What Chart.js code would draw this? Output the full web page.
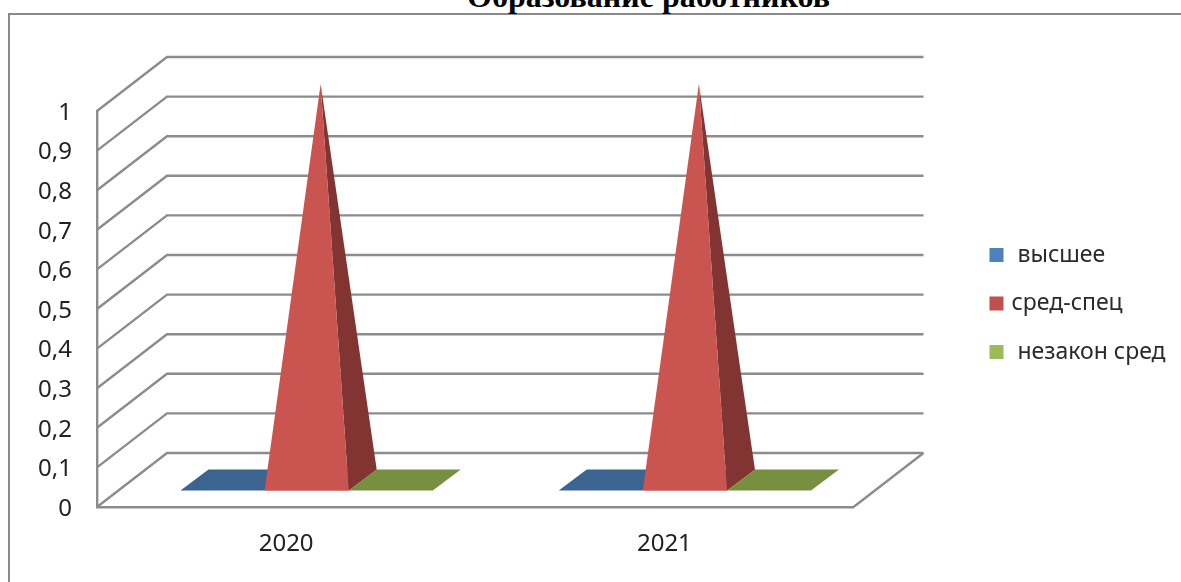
<!DOCTYPE html>
<html>
<head>
<meta charset="utf-8">
<style>
  html, body { margin: 0; padding: 0; background: #fff; overflow: hidden; }
  #wrap { position: relative; width: 1181px; height: 582px; overflow: hidden; }
  #frame { position: absolute; left: 8px; top: 13px; width: 1200px; height: 600px; border: 2px solid #8a8a8a; box-sizing: border-box; }
  #title { position: absolute; left: 467px; top: -22px; font: bold 32px "Liberation Serif"; color: #000; white-space: nowrap; }
  canvas { position: absolute; left: 0; top: 0; }
</style>
</head>
<body>
<div id="wrap">
  <div id="frame"></div>
  <div id="title">Образование работников</div>
  <canvas id="myChart" width="1181" height="582"></canvas>
</div>
<script src="https://cdn.jsdelivr.net/npm/chart.js@4/dist/chart.umd.min.js"></script>
<script>
'use strict';

const categories = ['2020', '2021'];
const vysshee = [0, 0];
const sredSpec = [1, 1];
const nezakonSred = [0, 0];
const yTickLabels = ['0', '0,1', '0,2', '0,3', '0,4', '0,5', '0,6', '0,7', '0,8', '0,9', '1'];

const gridColor = '#8c8c8c';
// wall depth of the fake 3d box, and where the bars stand inside it
const wallDx = 70, wallDy = 54;
const barShiftX = 20.5, barShiftY = 16.5;
const barDx = 28, barDy = 21;
// front face, side face
const shades = [['#3c6491', '#3c6491'], ['#c95450', '#823432'], ['#779040', '#779040']];

function poly(ctx, pts, color) {
    ctx.fillStyle = color;
    ctx.beginPath();
    pts.forEach((p, i) => i ? ctx.lineTo(p[0], p[1]) : ctx.moveTo(p[0], p[1]));
    ctx.closePath();
    ctx.fill();
}

const pyramid3d = {
    id: 'pyramid3d',
    afterLayout(chart) {
        // legend sits above the middle of the picture, and its box clips the text otherwise
        chart.legend.top -= 43;
        chart.legend.bottom -= 43;
        chart.legend.right = chart.width;
    },
    beforeDatasetsDraw(chart) {
        const ctx = chart.ctx;
        const area = chart.chartArea;
        const yScale = chart.scales.y;

        // walls
        ctx.save();
        ctx.strokeStyle = gridColor;
        ctx.lineWidth = 2.4;
        yScale.ticks.forEach(t => {
            const y = yScale.getPixelForValue(t.value);
            ctx.beginPath();
            ctx.moveTo(area.left, y);
            ctx.lineTo(area.left + wallDx, y - wallDy);
            ctx.lineTo(area.right + wallDx, y - wallDy);
            ctx.stroke();
        });
        const y0 = yScale.getPixelForValue(0);
        ctx.beginPath();
        ctx.moveTo(area.right, y0);
        ctx.lineTo(area.right + wallDx, y0 - wallDy);
        ctx.stroke();

        // pyramids, placed from the bar elements of each dataset
        chart.data.datasets.forEach((ds, i) => {
            chart.getDatasetMeta(i).data.forEach(el => {
                const x0 = el.x - el.width / 2 + barShiftX;
                const x1 = el.x + el.width / 2 + barShiftX;
                const b = el.base - barShiftY;
                const apex = [el.x + barShiftX + barDx / 2, el.y - barShiftY - barDy / 2];
                poly(ctx, [[x0, b], [x1, b], [x1 + barDx, b - barDy], [x0 + barDx, b - barDy]], shades[i][0]);
                if (el.base - el.y > 0) {
                    poly(ctx, [[x1, b], [x1 + barDx, b - barDy], apex], shades[i][1]);
                    poly(ctx, [[x0, b], [x1, b], apex], shades[i][0]);
                }
            });
        });
        ctx.restore();
        return false;
    }
};

new Chart(document.getElementById('myChart'), {
    type: 'bar',
    data: {
        labels: categories,
        datasets: [
            { label: ' высшее', data: vysshee, backgroundColor: '#4f81bd', borderColor: '#4f81bd', borderWidth: 7 },
            { label: 'сред-спец', data: sredSpec, backgroundColor: '#c0504d', borderColor: '#c0504d', borderWidth: 7 },
            { label: ' незакон сред', data: nezakonSred, backgroundColor: '#9bbb59', borderColor: '#9bbb59', borderWidth: 7 }
        ]
    },
    plugins: [pyramid3d],
    options: {
        responsive: false,
        animation: false,
        layout: { padding: { top: 111, left: 0, right: 20, bottom: 0 } },
        categoryPercentage: 0.667,
        barPercentage: 1,
        plugins: {
            tooltip: { enabled: false },
            title: { display: false },
            legend: {
                position: 'right',
                labels: {
                    boxWidth: 7,
                    boxHeight: 7,
                    padding: 25.5,
                    color: '#2a2a2a',
                    font: { family: 'Noto Sans', size: 23 }
                }
            }
        },
        scales: {
            x: {
                grid: { display: false },
                border: { color: gridColor, width: 2.4 },
                ticks: { padding: 15, color: '#222', font: { family: 'Noto Sans', size: 24 } },
                afterFit(s) { s.height = 75; }
            },
            y: {
                min: 0,
                max: 1,
                grid: { display: false },
                border: { color: gridColor, width: 2.4 },
                ticks: {
                    stepSize: 0.1,
                    padding: 17,
                    labelOffset: 2,
                    color: '#222',
                    font: { family: 'Noto Sans', size: 24 },
                    callback: (v, i) => yTickLabels[i]
                },
                afterFit(s) { s.width = 97; }
            },
            // empty axis, only pushes the legend away from the plot
            gap: {
                position: 'right',
                grid: { display: false },
                border: { display: false },
                ticks: { display: false },
                afterFit(s) { s.width = 114; }
            }
        }
    }
});
</script>
</body>
</html>
